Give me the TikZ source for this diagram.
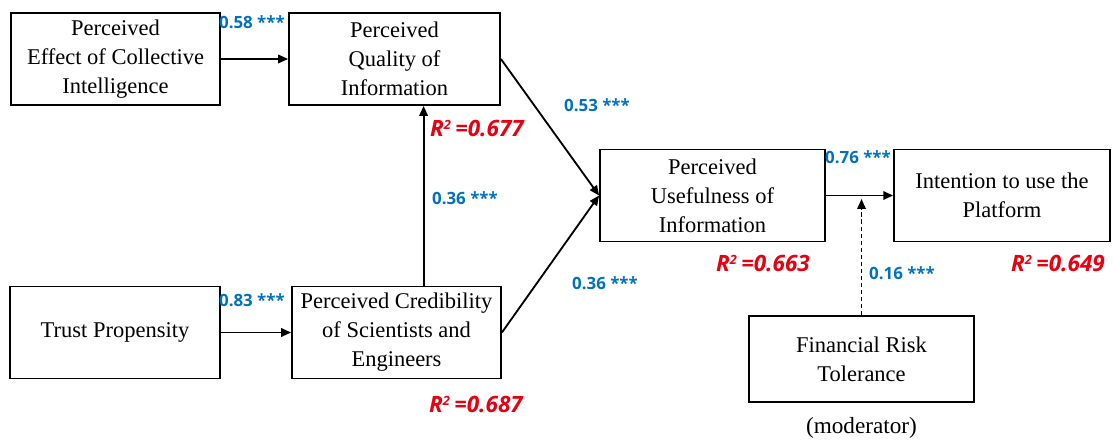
\documentclass[tikz,border=0pt]{standalone}
\usepackage{fontspec}
\setmainfont{Liberation Serif}
\newfontfamily\coeffont{Open Sans}
\usetikzlibrary{arrows.meta, positioning}
\definecolor{coefblue}{RGB}{0,112,192}
\definecolor{rsqred}{RGB}{232,0,16}

\begin{document}
\begin{tikzpicture}[
    >={Triangle[length=7pt,width=6pt]},
    every node/.style={align=center},
    construct/.style={draw=black, line width=1.3pt, minimum width=#1, minimum height=2.3cm, inner sep=0pt, font=\fontsize{16}{20.6}\selectfont},
    construct/.default=5.25cm,
    path link/.style={draw=black, line width=1.3pt, ->},
    moderation link/.style={draw=black, line width=1.1pt, ->, densely dashed, shorten >=2.5pt},
    coef/.style={text=coefblue, font=\coeffont\fontsize{12}{14}\selectfont\bfseries},  % path coefficients
    rsq/.style={text=rsqred, font=\coeffont\fontsize{16}{18}\selectfont\bfseries\itshape}  % explained variance
]
\useasboundingbox (0,0) rectangle (27.825,11.025);

% ---- Constructs ----
\node[construct=5.225cm] (peci) at (2.8875,9.55) {Perceived\\Effect of Collective\\Intelligence};
\node[construct=5.275cm] (pqi) at (9.8625,9.55) {Perceived\\Quality of\\Information};
\node[construct] (tp) at (2.875,2.7125) {Trust Propensity};
\node[construct=5.225cm] (pcse) at (9.9125,2.7125) {Perceived Credibility\\of Scientists and\\Engineers};
\node[construct=5.625cm] (pui) at (17.8125,6.1375) {Perceived\\Usefulness of\\Information};
\node[construct=5.4cm] (itu) at (25.05,6.1375) {Intention to use the\\Platform};
\node[construct=5.625cm, minimum height=2.15cm] (frt) at (21.5375,2.05) {Financial Risk\\Tolerance};
\node[below=0.25cm of frt, font=\fontsize{16.5}{20.6}\selectfont] (modnote) {(moderator)};

% ---- Paths ----
\draw[path link] (peci) -- (pqi);
\draw[path link] (tp) -- (pcse);
\draw[path link] (pcse.60) -- (pcse.60 |- pqi.south);
\draw[path link] (pqi.east) -- (pui.west);
\draw[path link] (pcse.east) -- (pui.west);
\draw[path link] (pui) -- (itu);

% ---- Moderation ----
\coordinate (modpoint) at (frt.north |- pui.east);
\draw[moderation link] (frt.north) -- (modpoint);

% ---- Coefficients ----
\node[coef] (c58) at (6.3,10.475) {0.58 ***};
\node[coef] (c83) at (6.3,3.525) {0.83 ***};
\node[coef] (c36a) at (11.625,6.075) {0.36 ***};
\node[coef] (c53) at (14.925,8.4) {0.53 ***};
\node[coef] (c36b) at (15.125,3.95) {0.36 ***};
\node[coef] (c76) at (21.45,7.1) {0.76 ***};
\node[coef] (c16) at (22.55,4.2) {0.16 ***};

% ---- R squared ----
\node[rsq] (r677) at (11.925,7.825) {R{\fontsize{13}{13}\selectfont\textsuperscript{2}}\,=0.677};
\node[rsq] (r663) at (19.075,4.45) {R{\fontsize{13}{13}\selectfont\textsuperscript{2}}\,=0.663};
\node[rsq] (r649) at (26.45,4.45) {R{\fontsize{13}{13}\selectfont\textsuperscript{2}}\,=0.649};
\node[rsq] (r687) at (11.9,0.925) {R{\fontsize{13}{13}\selectfont\textsuperscript{2}}\,=0.687};

\end{tikzpicture}
\end{document}
